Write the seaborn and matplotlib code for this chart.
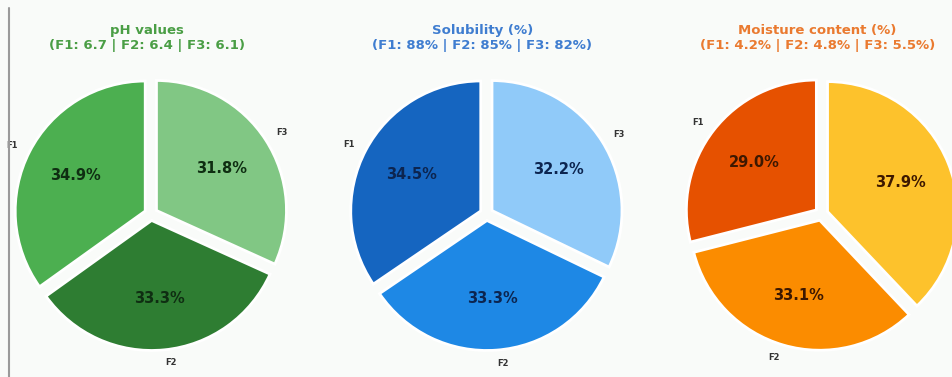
import matplotlib
matplotlib.use("Agg")
import matplotlib.pyplot as plt
from matplotlib.lines import Line2D
import seaborn as sns

# Formulation data
formulations = ["F1", "F2", "F3"]
ph_values = [6.7, 6.4, 6.1]
solubility = [88, 85, 82]
moisture = [4.2, 4.8, 5.5]

panels = [
    dict(values=ph_values, title="pH values", fmt="{:.1f}",
         colors=["#4caf50", "#2e7d32", "#81c784"], title_color="#4a9e45",
         pct_color="#0f2e12"),
    dict(values=solubility, title="Solubility (%)", fmt="{:.0f}%",
         colors=["#1565c0", "#1e88e5", "#90caf9"], title_color="#3f7dd0",
         pct_color="#0c2550"),
    dict(values=moisture, title="Moisture content (%)", fmt="{:.1f}%",
         colors=["#e65100", "#fb8c00", "#fdc22c"], title_color="#ea7a30",
         pct_color="#3d1800"),
]

sns.set_theme(style="white")
plt.rcParams["font.family"] = ["DejaVu Sans"]

W, H = 952, 377
bg = "#f9fbf9"
fig = plt.figure(figsize=(W / 100, H / 100), dpi=100, facecolor=bg)

radius_px = 130
box = 2.5 * radius_px
centers_x = [151, 486.5, 821.5]
center_y = 214

for cx, p in zip(centers_x, panels):
    left = (cx - box / 2) / W
    bottom = (H - center_y - box / 2) / H
    ax = fig.add_axes([left, bottom, box / W, box / H])
    ax.set_facecolor(bg)
    wedges, texts, autotexts = ax.pie(
        p["values"], labels=formulations, colors=p["colors"],
        autopct="%1.1f%%", startangle=90, counterclock=True,
        explode=[0.05] * 3, pctdistance=0.6, labeldistance=1.1,
        wedgeprops=dict(edgecolor="white", linewidth=2),
        textprops=dict(fontsize=6, color="#333333", fontweight="bold"),
    )
    for t in autotexts:
        t.set_fontsize(10.5)
        t.set_fontweight("heavy")
        t.set_color(p["pct_color"])
    ax.set_xlim(-1.25, 1.25)
    ax.set_ylim(-1.25, 1.25)
    ax.set_aspect("equal")
    ax.axis("off")

    parts = " | ".join(f"{f}: {p['fmt'].format(v)}" for f, v in zip(formulations, p["values"]))
    fig.text((cx - 4) / W, 1 - 38 / H, f"{p['title']}\n({parts})",
             ha="center", va="center", fontsize=9.5, fontweight="bold",
             color=p["title_color"], linespacing=1.25)

fig.add_artist(Line2D([9 / W, 9 / W], [0, 1 - 8 / H], transform=fig.transFigure,
                      color="#9a9a9a", linewidth=1.5))

fig.savefig("out.png", dpi=100, facecolor=bg)
